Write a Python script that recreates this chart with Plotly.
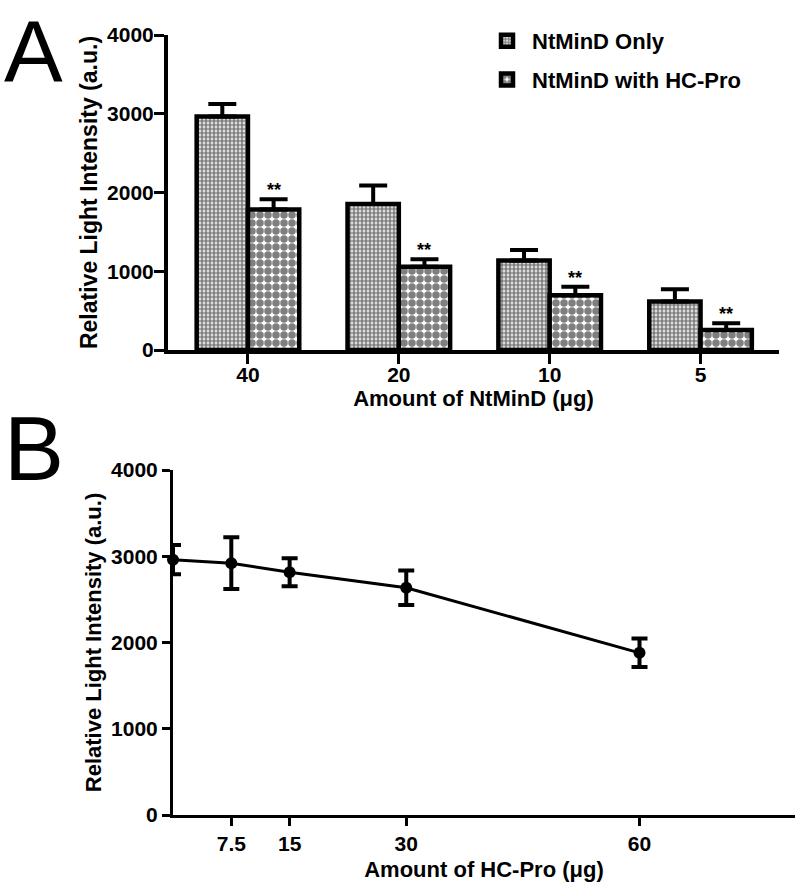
import plotly.graph_objects as go

# ---------------- Panel A data ----------------
amounts_ntmind = ["40", "20", "10", "5"]
only_values = [2965, 1855, 1135, 615]
only_errors = [160, 235, 135, 155]
hcpro_values = [1785, 1058, 694, 254]
hcpro_errors = [128, 93, 110, 85]
signif_labels = ["**", "**", "**", "**"]
series_names = ["NtMinD Only", "NtMinD with HC-Pro"]

# ---------------- Panel B data ----------------
hcpro_amounts = [0, 7.5, 15, 30, 60]
hcpro_tick_labels = ["7.5", "15", "30", "60"]
light_values = [2960, 2920, 2815, 2635, 1880]
light_errors = [170, 300, 162, 200, 165]

FONT = "Liberation Sans, Arial, sans-serif"
BARGAP = 0.32

fig = go.Figure()

fig.add_trace(go.Bar(
    x=amounts_ntmind, y=only_values, name=series_names[0],
    xaxis="x", yaxis="y", legendgroup="a",
    marker=dict(color="white",
                line=dict(color="black", width=4.5),
                pattern=dict(shape=".", size=4, solidity=0.7,
                             fgcolor="black", bgcolor="white", fillmode="overlay")),
    error_y=dict(type="data", array=only_errors, arrayminus=[0] * 4,
                 symmetric=False, color="black", thickness=4, width=14),
))
fig.add_trace(go.Bar(
    x=amounts_ntmind, y=hcpro_values, name=series_names[1],
    xaxis="x", yaxis="y", legendgroup="b",
    marker=dict(color="white",
                line=dict(color="black", width=4.5),
                pattern=dict(shape=".", size=8, solidity=0.7,
                             fgcolor="black", bgcolor="white", fillmode="overlay")),
    error_y=dict(type="data", array=hcpro_errors, arrayminus=[0] * 4,
                 symmetric=False, color="black", thickness=4, width=14),
))

fig.add_trace(go.Scatter(
    x=hcpro_amounts, y=light_values, mode="lines+markers",
    xaxis="x2", yaxis="y2", showlegend=False, cliponaxis=False,
    line=dict(color="black", width=3),
    marker=dict(color="black", size=12, symbol="circle"),
    error_y=dict(type="data", array=light_errors, color="black",
                 thickness=4, width=8),
))

annotations = []
bar_w = (1 - BARGAP) / 2
for i, (v, e, s) in enumerate(zip(hcpro_values, hcpro_errors, signif_labels)):
    annotations.append(dict(
        x=i + bar_w / 2, y=v + e, xref="x", yref="y", text=s,
        showarrow=False, yanchor="bottom", yshift=-3,
        font=dict(family=FONT, size=18, color="black", weight="bold"),
    ))
annotations.append(dict(x=2 / 800, y=1.0, xref="paper", yref="paper",
                        text="A", showarrow=False, xanchor="left", yanchor="top",
                        font=dict(family=FONT, size=88, color="black")))
annotations.append(dict(x=2 / 800, y=1.0 - 397 / 885, xref="paper", yref="paper",
                        text="B", showarrow=False, xanchor="left", yanchor="top",
                        font=dict(family=FONT, size=90, color="black")))

tickfont = dict(family=FONT, size=21, color="black", weight="bold")
titlefont = dict(family=FONT, size=22, color="black", weight="bold")

fig.update_layout(
    width=800, height=885,
    margin=dict(l=0, r=0, t=0, b=0, autoexpand=False),
    paper_bgcolor="white", plot_bgcolor="white",
    barmode="group", bargap=BARGAP, bargroupgap=0,
    font=dict(family=FONT, color="black"),
    showlegend=True,
    legend=dict(x=0.6025, y=1 - 20 / 885, xanchor="left", yanchor="top",
                font=dict(family=FONT, size=22, color="black", weight="bold"),
                tracegroupgap=7, bgcolor="rgba(0,0,0,0)", itemwidth=40),
    xaxis=dict(domain=[168 / 800, 779 / 800], anchor="y", type="category",
               automargin=False,
               range=[-0.53, 3.52], showline=True, linewidth=4, linecolor="black",
               ticks="outside", ticklen=10, tickwidth=3, tickcolor="black",
               tickfont=tickfont, showgrid=False, zeroline=False,
               ticklabelstandoff=-7,
               title=dict(text="Amount of NtMinD (μg)", font=titlefont, standoff=6)),
    yaxis=dict(domain=[1 - 350 / 885, 1 - 35 / 885], anchor="x",
               automargin=False,
               range=[0, 4000], dtick=1000, showline=True, linewidth=4,
               linecolor="black", ticks="outside", ticklen=10, tickwidth=3,
               tickcolor="black", tickfont=tickfont, showgrid=False, zeroline=False,
               ticklabelstandoff=-4,
               title=dict(text="Relative Light Intensity (a.u.)",
                          font=dict(family=FONT, size=23, color="black", weight="bold"),
                          standoff=4)),
    xaxis2=dict(domain=[173 / 800, 795 / 800], anchor="y2",
                automargin=False,
                range=[0, 80], tickvals=hcpro_amounts[1:], ticktext=hcpro_tick_labels,
                showline=True, linewidth=3, linecolor="black",
                ticks="outside", ticklen=8, tickwidth=3, tickcolor="black",
                tickfont=tickfont, showgrid=False, zeroline=False,
                title=dict(text="Amount of HC-Pro (μg)", font=titlefont, standoff=8)),
    yaxis2=dict(domain=[1 - 815 / 885, 1 - 470 / 885], anchor="x2",
                automargin=False,
                range=[0, 4000], dtick=1000, showline=True, linewidth=3,
                linecolor="black", ticks="outside", ticklen=8, tickwidth=3,
                tickcolor="black", tickfont=tickfont, showgrid=False, zeroline=False,
                title=dict(text="Relative Light Intensity (a.u.)", font=titlefont,
                           standoff=4)),
    annotations=annotations,
)

fig.write_html("out.html", config={"displayModeBar": False},
               post_script="document.body.style.margin='0';document.body.style.overflow='hidden';")
